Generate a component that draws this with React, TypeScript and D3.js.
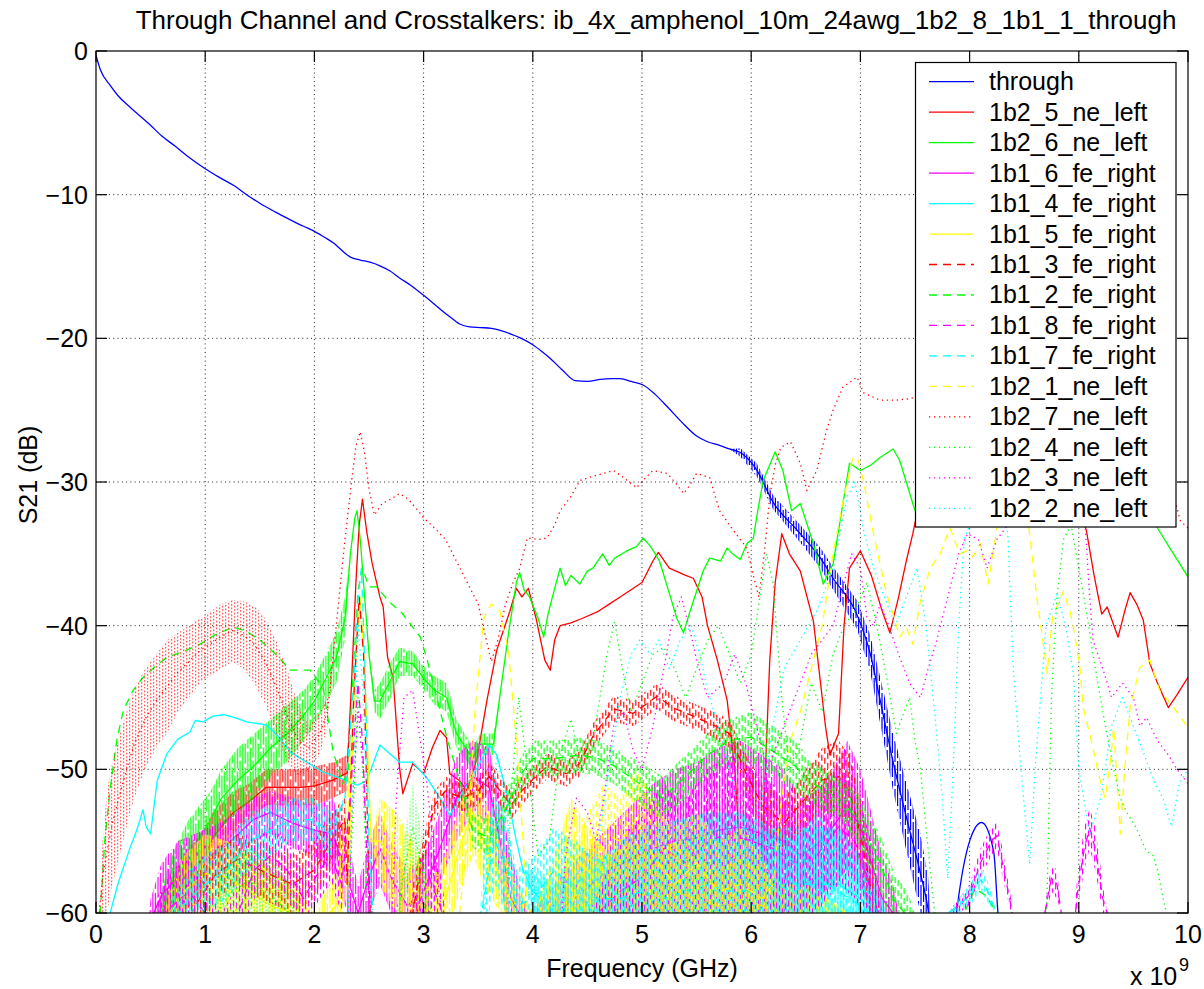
import React from "react";
import * as d3 from "d3";

// Each row: [frequency in GHz, upper dB, lower dB (optional: extent of the ripple band)]
type Row = [number, number, number?];

const chartTitle = "Through Channel and Crosstalkers: ib_4x_amphenol_10m_24awg_1b2_8_1b1_1_through";
const xLabel = "Frequency (GHz)";
const yLabel = "S21 (dB)";
const xTickValues = [0, 1, 2, 3, 4, 5, 6, 7, 8, 9, 10];
const yTickValues = [0, -10, -20, -30, -40, -50, -60];

const seriesNames = [
  "through", "1b2_5_ne_left", "1b2_6_ne_left", "1b1_6_fe_right", "1b1_4_fe_right",
  "1b1_5_fe_right", "1b1_3_fe_right", "1b1_2_fe_right", "1b1_8_fe_right", "1b1_7_fe_right",
  "1b2_1_ne_left", "1b2_7_ne_left", "1b2_4_ne_left", "1b2_3_ne_left", "1b2_2_ne_left",
];
const seriesColors = [
  "#0000ff", "#ff0000", "#00ff00", "#ff00ff", "#00ffff",
  "#ffff00", "#ff0000", "#00ff00", "#ff00ff", "#00ffff",
  "#ffff00", "#ff0000", "#00ff00", "#ff00ff", "#00ffff",
];
const seriesStyles = [
  "solid", "solid", "solid", "solid", "solid",
  "solid", "dashed", "dashed", "dashed", "dashed",
  "dashed", "dotted", "dotted", "dotted", "dotted",
];

const through: Row[] = [
  [0, -0.3], [0.04, -1.3], [0.13, -2.4], [0.2, -3.1], [0.31, -3.9], [0.49, -5.1], [0.6, -5.9], [0.72, -6.6],
  [0.86, -7.45], [1.0, -8.2], [1.13, -8.8], [1.27, -9.4], [1.38, -10.0], [1.5, -10.6], [1.64, -11.2],
  [1.78, -11.75], [1.9, -12.2], [2.0, -12.55], [2.1, -13.0], [2.19, -13.45], [2.27, -14.0], [2.33, -14.35],
  [2.42, -14.55], [2.51, -14.7], [2.6, -14.95], [2.69, -15.3], [2.78, -15.8], [2.88, -16.3], [3.0, -17.0],
  [3.08, -17.5], [3.15, -17.95], [3.24, -18.5], [3.33, -19.0], [3.42, -19.2], [3.52, -19.25], [3.62, -19.3],
  [3.7, -19.45], [3.8, -19.7], [3.88, -19.95], [4.0, -20.45], [4.08, -20.9], [4.16, -21.4], [4.27, -22.2],
  [4.39, -22.95], [4.5, -23.0], [4.62, -22.85], [4.72, -22.8], [4.8, -22.8], [4.9, -23.0], [5.01, -23.25],
  [5.12, -23.9], [5.23, -24.75], [5.36, -25.8], [5.5, -26.8], [5.6, -27.2], [5.71, -27.45], [5.8, -27.7],
  [5.9, -27.65, -28.25], [6.05, -28.7, -29.6], [6.2, -30.9, -31.9], [6.42, -32.75, -33.95], [6.63, -34.55, -35.95],
  [6.75, -35.9, -37.5], [6.97, -38.25, -40.25], [7.09, -40.65, -43.25], [7.18, -43.55, -46.75], [7.3, -47.5, -51.5],
  [7.43, -51.2, -56.0], [7.55, -54.5, -60], [7.62, -57.5, -62], [7.66, -62], [7.85, -62], [7.88, -60], [8.0, -55],
  [8.11, -53.7], [8.22, -55.7], [8.26, -60], [8.29, -62],
];

const ne5: Row[] = [
  [0.55, -62], [0.6, -60, -62], [0.7, -57.5, -61], [0.8, -56, -60], [0.9, -55, -59], [1.0, -54, -58],
  [1.07, -53, -56.5], [1.2, -52, -55], [1.26, -51.5, -54.5], [1.4, -51, -53.5], [1.56, -50, -52.5],
  [1.7, -50, -52.5], [1.87, -50, -52.5], [2.0, -49.8, -52.5], [2.17, -49.5, -52], [2.3, -49, -51.5],
  [2.34, -44], [2.38, -37], [2.41, -33], [2.44, -31.2], [2.48, -33.5], [2.53, -35.7], [2.6, -38],
  [2.63, -38.7], [2.67, -42.2], [2.72, -43.6], [2.78, -49.9], [2.81, -51.7], [2.9, -49.6], [3.0, -50.3],
  [3.08, -48.5], [3.15, -47.3], [3.21, -47.8], [3.24, -50.3], [3.33, -50.8], [3.4, -51.5], [3.49, -49.2],
  [3.58, -45.2], [3.67, -41.7], [3.79, -39], [3.85, -37.4], [3.9, -38], [3.96, -37.4], [4.03, -39.5],
  [4.11, -42.4], [4.16, -43.1], [4.2, -41], [4.25, -40], [4.35, -39.8], [4.45, -39.5], [4.6, -39],
  [4.7, -38.5], [4.8, -38], [4.9, -37.5], [5.0, -37], [5.1, -35.5], [5.15, -34.9], [5.25, -36],
  [5.4, -36.5], [5.47, -36.7], [5.55, -38], [5.6, -40], [5.69, -42.4], [5.78, -45.2], [5.85, -50],
  [5.9, -56], [5.93, -60], [5.96, -62], [6.06, -62], [6.08, -60], [6.12, -52], [6.17, -42.4], [6.22, -37],
  [6.28, -33.6], [6.35, -35], [6.45, -36.2], [6.57, -39.7], [6.62, -43], [6.68, -47], [6.72, -49],
  [6.8, -47.5], [6.85, -40], [6.9, -36], [7.0, -34.8], [7.1, -36.5], [7.2, -39], [7.27, -40.5],
  [7.35, -38], [7.42, -35.5], [7.48, -33.6], [7.55, -31], [7.7, -30], [8.3, -29], [8.9, -30], [9.0, -31.5],
  [9.07, -33.4], [9.14, -36.5], [9.21, -39.2], [9.26, -38.7], [9.36, -40.8], [9.42, -39], [9.47, -37.7],
  [9.53, -38.5], [9.59, -39.6], [9.65, -42.6], [9.72, -44], [9.82, -45.7], [9.9, -44.8], [10.0, -43.6],
];

const ne6: Row[] = [
  [0.5, -62], [0.55, -60, -62], [0.65, -57, -61], [0.75, -55, -60], [0.85, -53.5, -58.5], [0.95, -52.5, -57],
  [1.05, -51.5, -55.5], [1.15, -50, -54], [1.3, -48.5, -53], [1.45, -47.5, -52], [1.6, -46.5, -50.5],
  [1.75, -45.5, -49.5], [1.9, -44.5, -48], [2.0, -43.5, -47], [2.1, -42, -45.5], [2.2, -40.5, -44],
  [2.28, -38, -41], [2.33, -35], [2.37, -32.5], [2.39, -32], [2.42, -34], [2.46, -38], [2.5, -42],
  [2.55, -44.5, -46], [2.6, -44, -46.5], [2.7, -42.5, -45], [2.78, -41.5, -43.5], [2.9, -41.8, -43.5],
  [3.0, -42.8, -44.5], [3.1, -43.5, -45.5], [3.21, -44, -46], [3.3, -46.5, -48.5], [3.45, -48.5, -50],
  [3.52, -47.5, -49], [3.64, -47.5, -49], [3.7, -44.8], [3.78, -40.4], [3.85, -37], [3.88, -36.3],
  [3.92, -37.5], [3.97, -38], [4.05, -39.5], [4.1, -40.8], [4.14, -39.2], [4.18, -38], [4.25, -36],
  [4.3, -37.2], [4.35, -36.5], [4.43, -37.1], [4.5, -36.2], [4.55, -36], [4.64, -35], [4.7, -35.8],
  [4.75, -35.3], [4.86, -34.8], [4.95, -34.5], [5.01, -33.9], [5.08, -34.5], [5.16, -35.5], [5.26, -38],
  [5.32, -39.5], [5.38, -40.5], [5.44, -39], [5.5, -37.6], [5.56, -36.2], [5.62, -35.3], [5.72, -35.5],
  [5.78, -34.6], [5.83, -35], [5.9, -35.4], [5.96, -34.3], [6.02, -33.9], [6.06, -32], [6.11, -29.9],
  [6.22, -27.9], [6.29, -29.2], [6.37, -32], [6.45, -31.5], [6.57, -34.3], [6.66, -37.1], [6.75, -35.7],
  [6.84, -31.5], [6.9, -28.7], [7.0, -29.2], [7.1, -28.8], [7.18, -28.3], [7.3, -27.7], [7.36, -28.5],
  [7.42, -30], [7.5, -32], [7.56, -31.5], [7.7, -30], [9.5, -30], [9.65, -32], [9.72, -33.2], [9.85, -34.8],
  [10.0, -36.6],
];

const fe6: Row[] = [
  [0.45, -62], [0.5, -59, -62], [0.6, -56.5, -61], [0.75, -55, -60], [0.9, -54.5, -59.5], [1.05, -54, -58],
  [1.2, -53.5, -57], [1.44, -52, -55], [1.6, -51.5, -54.5], [1.8, -52, -55.5], [2.0, -52.5, -56],
  [2.17, -52, -57], [2.3, -55, -60], [2.4, -58, -62], [2.5, -55, -60], [2.6, -53, -58], [2.7, -55, -60],
  [2.85, -57, -62], [3.0, -56, -61], [3.15, -53, -58], [3.3, -49, -55], [3.45, -48, -53], [3.6, -48.5, -54],
  [3.7, -52, -58], [3.8, -56, -62], [3.95, -60, -62], [4.1, -59, -62], [4.3, -57, -62], [4.5, -55.5, -61],
  [4.7, -54, -60], [4.9, -52.5, -60], [5.1, -51, -60], [5.3, -50, -60], [5.5, -49.5, -60], [5.7, -48.5, -60],
  [5.9, -48, -60], [6.1, -49, -60], [6.3, -50, -60], [6.45, -52, -60], [6.6, -51.5, -59], [6.75, -50, -58],
  [6.88, -48, -57], [7.0, -50, -58], [7.1, -53, -60], [7.2, -56, -62], [7.3, -58, -62], [7.4, -62],
];

const fe4: Row[] = [
  [0.1, -62], [0.13, -60], [0.2, -58], [0.31, -55.5], [0.36, -54.5], [0.4, -53.6], [0.43, -52.8], [0.46, -54],
  [0.5, -54.5], [0.56, -50.8], [0.65, -48.9], [0.75, -47.9], [0.86, -47.4], [0.91, -46.6], [0.98, -46.7],
  [1.07, -46.3], [1.17, -46.2], [1.27, -46.4], [1.38, -46.7], [1.56, -46.9], [1.67, -47.7], [1.78, -48.8],
  [1.93, -49.5], [2.08, -50.2], [2.23, -50.6], [2.39, -51.1], [2.48, -50.8], [2.6, -48.3], [2.78, -49.5],
  [2.9, -49.5], [3.03, -50.6], [3.15, -52], [3.24, -53.2], [3.36, -51.6], [3.52, -49.5], [3.6, -48.3],
  [3.67, -49], [3.76, -51.6], [3.85, -55], [3.91, -57], [4.0, -57, -60], [4.2, -58, -62], [4.5, -57, -62],
  [4.8, -55, -62], [5.0, -54, -62], [5.3, -53.5, -62], [5.6, -53, -62], [5.9, -53, -62], [6.2, -54, -62],
  [6.5, -54, -62], [6.8, -54, -62], [7.0, -56, -62], [7.2, -59, -62], [7.3, -62],
];

const fe5: Row[] = [
  [0.6, -62], [0.65, -59, -62], [0.8, -56, -61], [1.0, -54.5, -60], [1.2, -55, -60], [1.4, -56, -61],
  [1.6, -57, -62], [1.8, -58, -62], [2.0, -60, -62], [2.2, -57, -62], [2.32, -50, -58], [2.38, -42],
  [2.42, -38], [2.46, -43], [2.52, -55], [2.6, -52, -58], [2.75, -53, -60], [2.9, -55, -62], [3.05, -58, -62],
  [3.2, -56, -62], [3.35, -52, -58], [3.45, -50, -56], [3.55, -52, -58], [3.7, -55, -60], [3.85, -58, -62],
  [4.0, -60, -62], [4.2, -56, -62], [4.35, -52, -60], [4.5, -54, -60], [4.7, -56, -62], [4.9, -55, -62],
  [5.1, -56, -62], [5.3, -55, -62], [5.5, -56, -62], [5.7, -57, -62], [5.9, -56, -62], [6.1, -57, -62],
  [6.3, -58, -62], [6.5, -58, -62], [6.7, -59, -62], [6.9, -60, -62], [7.0, -62],
];

const fe3: Row[] = [
  [0.75, -62], [0.8, -60, -62], [0.95, -57, -61], [1.1, -55.5, -59], [1.3, -54.5, -58], [1.5, -55, -59],
  [1.65, -55.5, -59.5], [1.8, -56, -60], [2.0, -55, -59], [2.15, -53, -57], [2.28, -52, -55], [2.3, -58],
  [2.36, -45], [2.41, -38], [2.45, -42], [2.49, -55], [2.52, -62], [2.85, -62], [2.9, -58, -62],
  [3.0, -54.5, -57], [3.1, -51.5, -53.5], [3.2, -50.5, -52.5], [3.35, -51, -53], [3.5, -50.5, -52.5],
  [3.6, -49.5, -51.5], [3.7, -50.5, -52.5], [3.8, -51.5, -53.5], [3.9, -50.5, -52.5], [4.0, -49.8, -51.6],
  [4.13, -48.9, -50.7], [4.31, -49.4, -51.2], [4.43, -48.7, -50.5], [4.55, -46.8, -48.6], [4.74, -44.9, -46.7],
  [4.92, -45.2, -47], [5.14, -44, -45.8], [5.28, -44.8, -46.6], [5.47, -45.4, -47.2], [5.65, -46, -47.8],
  [5.8, -46.5, -48.5], [5.95, -49, -51.5], [6.1, -51, -54], [6.3, -52, -55.5], [6.5, -50, -54],
  [6.65, -48.5, -53], [6.8, -48, -53], [6.9, -49, -54], [7.0, -52, -57], [7.1, -56, -61], [7.2, -60, -62],
  [7.25, -62],
];

const fe2: Row[] = [
  [0.03, -62], [0.04, -59.9], [0.08, -55], [0.13, -51.3], [0.19, -48], [0.25, -45.9], [0.34, -44.5],
  [0.43, -43.6], [0.55, -42.8], [0.65, -42.2], [0.8, -41.8], [0.95, -41.3], [1.1, -40.6], [1.26, -40.1],
  [1.38, -40.4], [1.5, -41], [1.65, -42], [1.78, -43.1], [1.96, -43.1], [2.08, -44.3], [2.17, -48.7],
  [2.26, -51], [2.31, -50], [2.35, -44], [2.4, -37.5], [2.44, -36], [2.5, -37.3], [2.57, -37.3], [2.68, -38.3],
  [2.8, -39.1], [2.97, -40.8], [3.03, -42.3], [3.12, -45], [3.22, -48], [3.32, -50.5], [3.45, -53, -55.5],
  [3.6, -53.5, -56], [3.75, -51.5, -54], [3.9, -49, -51.5], [4.0, -48, -50.5], [4.2, -48, -50.5],
  [4.43, -47.8, -50.2], [4.6, -48, -50.5], [4.74, -48.5, -51], [4.98, -49.5, -52.5], [5.19, -50.5, -53.5],
  [5.4, -49, -52], [5.6, -47.5, -50.5], [5.8, -46.5, -49.5], [6.0, -46, -49.5], [6.2, -47, -50.5],
  [6.4, -48, -51.5], [6.57, -49.5, -52.5], [6.8, -50.5, -53.5], [7.0, -52, -55.5], [7.18, -54.5, -58.5],
  [7.3, -57, -61], [7.43, -58.5, -62], [7.5, -60, -62], [7.55, -62],
  [7.9, -62], [7.95, -60], [8.05, -58.3], [8.15, -58.8], [8.25, -60], [8.3, -62],
];

const fe8: Row[] = [
  [0.5, -62], [0.55, -59, -62], [0.7, -57, -62], [0.85, -56, -61], [1.0, -58, -62], [1.15, -60, -62],
  [1.3, -58, -62], [1.45, -55, -59], [1.6, -54, -58], [1.75, -55, -59], [1.9, -57, -61], [2.05, -55, -59],
  [2.15, -54, -58], [2.25, -56, -60], [2.33, -52], [2.37, -47], [2.4, -44], [2.44, -48], [2.48, -56],
  [2.52, -62], [2.9, -62], [2.95, -57, -62], [3.05, -55, -60], [3.15, -57, -62], [3.25, -62], [4.5, -62],
  [4.6, -58, -62], [4.8, -55, -62], [5.0, -53, -62], [5.2, -51, -60], [5.4, -52, -61], [5.6, -50, -60],
  [5.8, -49, -60], [6.0, -50, -60], [6.2, -51, -60], [6.4, -53, -60], [6.6, -52, -60], [6.8, -50, -58],
  [6.95, -51, -59], [7.1, -55, -62], [7.2, -60, -62], [7.25, -62], [7.75, -62], [7.8, -60], [7.9, -59, -60],
  [8.0, -58, -59.5], [8.1, -55.5, -57.5], [8.2, -54, -56], [8.25, -53.7, -55.5], [8.3, -55.5, -57.5],
  [8.38, -59, -60], [8.42, -62], [8.65, -62], [8.7, -59, -60], [8.75, -56.6, -58.5], [8.8, -57, -59],
  [8.84, -60], [8.88, -62], [8.95, -62], [8.98, -58, -60], [9.05, -54, -57], [9.1, -52.7, -55.5],
  [9.15, -54, -57], [9.22, -58, -60], [9.26, -60], [9.3, -62],
];

const fe7: Row[] = [
  [0.6, -62], [0.7, -59, -62], [0.85, -57, -61], [1.0, -56, -60], [1.2, -55, -59], [1.4, -53, -57],
  [1.6, -52.5, -56], [1.8, -52, -55], [2.0, -52, -55], [2.15, -53, -56], [2.28, -52], [2.36, -44], [2.4, -38],
  [2.43, -36], [2.46, -42], [2.5, -55], [2.55, -62], [3.5, -62], [3.55, -56, -62], [3.65, -52, -58],
  [3.75, -53, -60], [3.85, -57, -62], [4.0, -56, -62], [4.2, -54, -60], [4.4, -55, -62], [4.6, -56, -62],
  [4.8, -56, -62], [5.0, -55, -62], [5.2, -56, -62], [5.4, -55, -62], [5.6, -54, -62], [5.8, -55, -62],
  [6.0, -55, -62], [6.2, -54, -62], [6.4, -55, -62], [6.6, -53, -62], [6.8, -55, -62], [7.0, -57, -62],
  [7.15, -59, -62], [7.25, -62], [7.75, -62], [7.8, -60], [7.9, -59, -60], [8.0, -58, -59.5],
  [8.1, -56.9, -58.5], [8.15, -57.5, -59], [8.22, -59, -60], [8.28, -62],
];

const ne1: Row[] = [
  [3.3, -62], [3.4, -55], [3.47, -46], [3.55, -39.5], [3.62, -38.5], [3.7, -39], [3.78, -42], [3.85, -48],
  [3.92, -56], [3.97, -62], [4.25, -62], [4.35, -57, -62], [4.5, -53, -60], [4.65, -51, -58], [4.8, -52, -58],
  [4.95, -50, -57], [5.1, -52, -60], [5.3, -54, -62], [5.5, -53, -60], [5.7, -55, -62], [5.9, -54, -62],
  [6.1, -56, -62], [6.2, -58], [6.28, -52], [6.36, -48], [6.45, -46], [6.55, -43], [6.65, -40], [6.75, -35],
  [6.85, -31], [6.93, -28.3], [6.98, -28.5], [7.03, -30], [7.12, -33.6], [7.24, -37.8], [7.3, -39.2],
  [7.36, -40.8], [7.42, -40.1], [7.48, -41.3], [7.55, -38.3], [7.64, -36], [7.73, -35], [7.82, -33.2],
  [7.91, -35], [7.97, -34.8], [8.03, -35.2], [8.1, -34.3], [8.17, -37.1], [8.25, -33.2], [8.35, -31],
  [8.5, -31], [8.55, -33.6], [8.62, -38.3], [8.67, -41], [8.71, -43.3], [8.76, -39.4], [8.86, -37.6],
  [8.92, -39], [8.95, -40.1], [9.01, -42.9], [9.04, -45.7], [9.1, -47.5], [9.19, -50.6], [9.24, -52],
  [9.29, -49.4], [9.32, -47.1], [9.36, -52], [9.38, -54.5], [9.42, -50], [9.47, -45.7], [9.56, -42.9],
  [9.65, -42.4], [9.74, -44.5], [9.87, -45.7], [10.0, -47.1],
];

const ne7: Row[] = [
  [0.02, -62], [0.03, -60], [0.06, -55, -60], [0.1, -51.5, -60], [0.15, -49.5, -58], [0.2, -48, -56.5],
  [0.28, -46, -54], [0.35, -44.5, -52], [0.45, -43, -50], [0.55, -42, -48.5], [0.65, -41, -47.5],
  [0.75, -40.5, -46], [0.85, -40, -45], [0.95, -39.5, -44], [1.05, -39, -43.5], [1.15, -38.5, -43],
  [1.25, -38.2, -42.5], [1.35, -38.3, -43], [1.45, -38.6, -44], [1.55, -39.5, -45.5], [1.65, -41, -47.5],
  [1.75, -43, -49.5], [1.85, -45.5, -50.5], [1.95, -47, -50], [2.05, -46, -49], [2.12, -45, -47], [2.2, -40],
  [2.28, -34], [2.34, -30], [2.38, -27.5], [2.42, -26.5], [2.46, -28], [2.5, -30.5], [2.55, -32.3],
  [2.62, -31.5], [2.7, -31.2], [2.78, -30.8], [2.86, -31.2], [2.95, -32], [3.0, -32.5], [3.1, -33.2],
  [3.2, -34], [3.3, -35.5], [3.4, -37], [3.5, -38.5], [3.56, -40.5], [3.62, -42.5], [3.68, -41], [3.75, -38.5],
  [3.82, -37], [3.88, -36], [3.95, -33.9], [4.05, -34], [4.13, -33.9], [4.2, -33], [4.25, -32], [4.35, -31],
  [4.43, -29.9], [4.55, -29.6], [4.65, -29.4], [4.74, -29.2], [4.85, -29.8], [4.95, -30.4], [5.02, -29.8],
  [5.1, -29.2], [5.23, -29.4], [5.3, -30], [5.38, -30.8], [5.44, -30.2], [5.5, -29.4], [5.62, -29.7],
  [5.71, -32], [5.84, -33.4], [5.96, -34.6], [6.02, -36.5], [6.07, -38], [6.12, -35], [6.17, -31],
  [6.22, -28.8], [6.27, -27.6], [6.36, -27.2], [6.45, -28.7], [6.51, -30.6], [6.6, -29.2], [6.69, -26.4],
  [6.75, -25], [6.84, -23.4], [6.97, -22.7], [7.03, -23.8], [7.18, -24.3], [7.33, -24.3], [7.45, -24.2],
  [7.55, -24], [7.7, -24], [9.8, -29], [9.93, -32.7], [10.0, -33.2],
];

const ne4: Row[] = [
  [1.05, -62], [1.1, -58, -62], [1.25, -56, -61], [1.4, -55.5, -60], [1.55, -56, -61], [1.7, -57, -62],
  [1.85, -59, -62], [1.95, -62], [2.3, -62], [2.36, -52], [2.4, -45], [2.44, -50], [2.5, -62], [2.75, -62],
  [2.8, -56, -60], [2.9, -51, -57], [3.0, -55, -60], [3.1, -62], [3.75, -62], [3.8, -52], [3.87, -45],
  [3.95, -50], [4.05, -56], [4.15, -55], [4.25, -49], [4.35, -46.5], [4.45, -50], [4.55, -48], [4.68, -42],
  [4.75, -39.7], [4.82, -43], [4.9, -46], [5.0, -44], [5.1, -42], [5.2, -41.5], [5.3, -43], [5.4, -45],
  [5.5, -43], [5.6, -41], [5.7, -40], [5.8, -42], [5.9, -44], [6.0, -42], [6.08, -38], [6.14, -35], [6.2, -37],
  [6.28, -45], [6.35, -50], [6.45, -48], [6.55, -44], [6.65, -46], [6.75, -42], [6.85, -40], [6.95, -39],
  [7.06, -37], [7.15, -40], [7.25, -44], [7.33, -47.5], [7.4, -46], [7.45, -45], [7.5, -48], [7.55, -50],
  [7.6, -54], [7.68, -60], [7.72, -62], [8.7, -62], [8.75, -45], [8.8, -38], [8.86, -34], [8.93, -33],
  [9.0, -36], [9.07, -39], [9.13, -42], [9.22, -46], [9.32, -50], [9.38, -52], [9.44, -53], [9.52, -54],
  [9.62, -55.7], [9.68, -56], [9.72, -57], [9.8, -60], [9.83, -62],
];

const ne3: Row[] = [
  [2.3, -62], [2.35, -52], [2.4, -46], [2.45, -50], [2.5, -58], [2.55, -62], [2.7, -62], [2.75, -52],
  [2.82, -45], [2.9, -44.5], [2.97, -48], [3.03, -51], [3.1, -56], [3.2, -62], [4.25, -62], [4.3, -56],
  [4.4, -52], [4.5, -53], [4.58, -55], [4.65, -52], [4.74, -47], [4.83, -46], [4.92, -48.7], [5.0, -50],
  [5.1, -47], [5.2, -43], [5.28, -39.5], [5.36, -38], [5.43, -40], [5.5, -42.4], [5.6, -45], [5.75, -44],
  [5.85, -42], [5.95, -44], [6.05, -47], [6.15, -50], [6.3, -47], [6.45, -44], [6.55, -42], [6.65, -41],
  [6.75, -40], [6.85, -37], [6.92, -35], [7.0, -36], [7.06, -39.4], [7.12, -40], [7.18, -38.5], [7.26, -40],
  [7.35, -42], [7.45, -44], [7.55, -45], [7.62, -43], [7.7, -41], [7.8, -38], [7.9, -35], [7.98, -33.6],
  [8.08, -34], [8.16, -36], [8.25, -34], [8.35, -33], [8.45, -32], [9.05, -32], [9.1, -38], [9.13, -41],
  [9.22, -43], [9.3, -45], [9.4, -44], [9.5, -45], [9.56, -47], [9.62, -46.4], [9.72, -48], [9.82, -49],
  [9.9, -50], [10.0, -51],
];

const ne2: Row[] = [
  [2.3, -62], [2.36, -50], [2.4, -40], [2.44, -44], [2.5, -56], [2.55, -62], [3.55, -62], [3.6, -55],
  [3.67, -49], [3.75, -52], [3.85, -60], [3.9, -62], [4.5, -62], [4.6, -55], [4.7, -50], [4.8, -45], [4.9, -42],
  [4.98, -41], [5.08, -42], [5.15, -41], [5.25, -43], [5.35, -41], [5.45, -40], [5.53, -42], [5.6, -44.5],
  [5.7, -47], [5.8, -50], [5.9, -53], [6.0, -55], [6.1, -52], [6.2, -47], [6.3, -43], [6.45, -41], [6.6, -39],
  [6.75, -36], [6.88, -31], [6.95, -30], [7.03, -33.4], [7.12, -36], [7.22, -38], [7.32, -40], [7.42, -38],
  [7.52, -36], [7.6, -40], [7.68, -46], [7.75, -52], [7.8, -57.6], [7.85, -50], [7.9, -40], [7.95, -34],
  [8.0, -33], [8.1, -32], [8.3, -32], [8.35, -33.6], [8.4, -43], [8.47, -50], [8.55, -56.6], [8.6, -50],
  [8.65, -45], [8.7, -40], [8.8, -37.8], [8.88, -40], [8.95, -43.3], [9.0, -50], [9.1, -54.5], [9.2, -52],
  [9.3, -47], [9.4, -45], [9.5, -47], [9.6, -49], [9.7, -51], [9.77, -52], [9.85, -54], [9.92, -51],
  [10.0, -50],
];

const seriesData: Row[][] = [
  through, ne5, ne6, fe6, fe4, fe5, fe3, fe2, fe8, fe7, ne1, ne7, ne4, ne3, ne2,
];

// Texture tiles used to fill the ripple bands (x offset, list of [y0, y1] segments per stroke)
const solidTile = {
  w: 13, h: 24, sw: 1.2,
  strokes: [
    [0, [[0, 14], [17, 24]]],
    [2.6, [[0, 3], [6, 24]]],
    [5.2, [[0, 24]]],
    [7.8, [[0, 9], [13, 24]]],
    [10.4, [[0, 18], [21, 24]]],
  ] as [number, number[][]][],
};
const dashedTile = {
  w: 15, h: 30, sw: 1.2,
  strokes: [
    [0, [[0, 6], [10, 16], [20, 26]]],
    [3, [[3, 9], [13, 19], [23, 29]]],
    [6, [[6, 12], [16, 22], [26, 30], [0, 2]]],
    [9, [[1, 7], [11, 17], [21, 27]]],
    [12, [[8, 14], [18, 24], [28, 30], [0, 4]]],
  ] as [number, number[][]][],
};
const dottedTile = {
  w: 12, h: 14, sw: 1.2,
  strokes: [
    [0, [[0, 1.2], [3.5, 4.7], [7, 8.2], [10.5, 11.7]]],
    [3, [[1.7, 2.9], [5.2, 6.4], [8.7, 9.9], [12.2, 13.4]]],
    [6, [[0.9, 2.1], [4.4, 5.6], [7.9, 9.1], [11.4, 12.6]]],
    [9, [[2.6, 3.8], [6.1, 7.3], [9.6, 10.8], [13.1, 14]]],
  ] as [number, number[][]][],
};

const FONT = "'Liberation Sans', Arial, Helvetica, sans-serif";
const dashFor = (s: string) => (s === "dashed" ? "8,6" : s === "dotted" ? "1.3,3.7" : undefined);

export default function App() {
  const left = 96, right = 1188, top = 51, bottom = 913;
  const x = d3.scaleLinear().domain([0, 10]).range([left, right]);
  const y = d3.scaleLinear().domain([-60, 0]).range([bottom, top]);

  const mid = (d: Row) => (d[2] === undefined ? d[1] : (d[1] + (d[2] as number)) / 2);
  const line = d3.line<Row>().x((d) => x(d[0])).y((d) => y(mid(d)));
  // the main channel trace is a smooth insertion-loss curve
  const smoothLine = d3.line<Row>().x((d) => x(d[0])).y((d) => y(mid(d))).curve(d3.curveMonotoneX);
  const band = d3
    .area<Row>()
    .x((d) => x(d[0]))
    .y0((d) => y(d[2] === undefined ? d[1] : (d[2] as number)))
    .y1((d) => y(d[1]));

  const legendX = 915.5, legendY = 62.5, legendW = 260.5, legendH = 464.5;
  const rowY = (i: number) => 81.7 + i * 30.47;

  return (
    <svg
      width={1204}
      height={989}
      viewBox="0 0 1204 989"
      style={{ position: "absolute", left: 0, top: 0, background: "#fff" }}
      fontFamily={FONT}
    >
      <defs>
        <clipPath id="plotClip">
          <rect x={left} y={top} width={right - left} height={bottom - top} />
        </clipPath>
        {seriesColors.map((c, i) => {
          const s = seriesStyles[i];
          const tile = s === "solid" ? solidTile : s === "dashed" ? dashedTile : dottedTile;
          return (
            <pattern
              key={i}
              id={`band${i}`}
              patternUnits="userSpaceOnUse"
              width={tile.w}
              height={tile.h}
              x={(i * 1.37) % tile.w}
              y={(i * 5.3) % tile.h}
            >
              {tile.strokes.map(([sx, segs], k) =>
                segs.map(([a, b], j) => (
                  <rect key={`${k}-${j}`} x={sx} y={a} width={tile.sw} height={b - a} fill={c} />
                ))
              )}
            </pattern>
          );
        })}
      </defs>

      <rect x={0} y={0} width={1204} height={989} fill="#fff" />

      {/* grid */}
      <g stroke="#222" strokeWidth={1} strokeDasharray="1,3.3">
        {xTickValues.slice(1, -1).map((t) => (
          <line key={`gx${t}`} x1={x(t)} x2={x(t)} y1={top} y2={bottom} />
        ))}
        {yTickValues.slice(1, -1).map((t) => (
          <line key={`gy${t}`} x1={left} x2={right} y1={y(t)} y2={y(t)} />
        ))}
      </g>

      {/* traces */}
      <g clipPath="url(#plotClip)">
        {seriesData.map((rows, i) => (
          <g key={seriesNames[i]}>
            {rows.some((r) => r[2] !== undefined) && (
              <path d={band(rows) ?? ""} fill={`url(#band${i})`} stroke="none" />
            )}
            <path
              d={(i === 0 ? smoothLine(rows) : line(rows)) ?? ""}
              fill="none"
              stroke={seriesColors[i]}
              strokeWidth={1.3}
              strokeDasharray={dashFor(seriesStyles[i])}
              strokeLinejoin="round"
            />
          </g>
        ))}
      </g>

      {/* axes box and ticks */}
      <rect x={left} y={top} width={right - left} height={bottom - top} fill="none" stroke="#000" strokeWidth={1.2} />
      <g stroke="#000" strokeWidth={1.2}>
        {xTickValues.map((t) => (
          <g key={`tx${t}`}>
            <line x1={x(t)} x2={x(t)} y1={bottom} y2={bottom - 11} />
            <line x1={x(t)} x2={x(t)} y1={top} y2={top + 11} />
          </g>
        ))}
        {yTickValues.map((t) => (
          <g key={`ty${t}`}>
            <line x1={left} x2={left + 11} y1={y(t)} y2={y(t)} />
            <line x1={right} x2={right - 11} y1={y(t)} y2={y(t)} />
          </g>
        ))}
      </g>

      {/* tick labels */}
      <g fontSize={25} fill="#000">
        {xTickValues.map((t) => (
          <text key={`lx${t}`} x={x(t)} y={943} textAnchor="middle">
            {t}
          </text>
        ))}
        {yTickValues.map((t) => (
          <text key={`ly${t}`} x={88} y={y(t) + 9} textAnchor="end">
            {t < 0 ? `\u2212${Math.abs(t)}` : `${t}`}
          </text>
        ))}
      </g>

      {/* titles */}
      <text x={656} y={29} fontSize={26} textAnchor="middle">
        {chartTitle}
      </text>
      <text x={642} y={977} fontSize={25} textAnchor="middle">
        {xLabel}
      </text>
      <text x={1130} y={985} fontSize={25}>x 10</text>
      <text x={1179} y={971} fontSize={18}>9</text>
      <text transform={`translate(37, 475) rotate(-90)`} fontSize={25} textAnchor="middle">
        {yLabel}
      </text>

      {/* legend */}
      <rect x={legendX} y={legendY} width={legendW} height={legendH} fill="#fff" stroke="#000" strokeWidth={1.2} />
      {seriesNames.map((name, i) => (
        <g key={`leg${name}`}>
          <line
            x1={929}
            x2={974}
            y1={rowY(i)}
            y2={rowY(i)}
            stroke={seriesColors[i]}
            strokeWidth={1.3}
            strokeDasharray={dashFor(seriesStyles[i])}
          />
          <text x={989} y={rowY(i) + 8.5} fontSize={25}>
            {name}
          </text>
        </g>
      ))}
    </svg>
  );
}
